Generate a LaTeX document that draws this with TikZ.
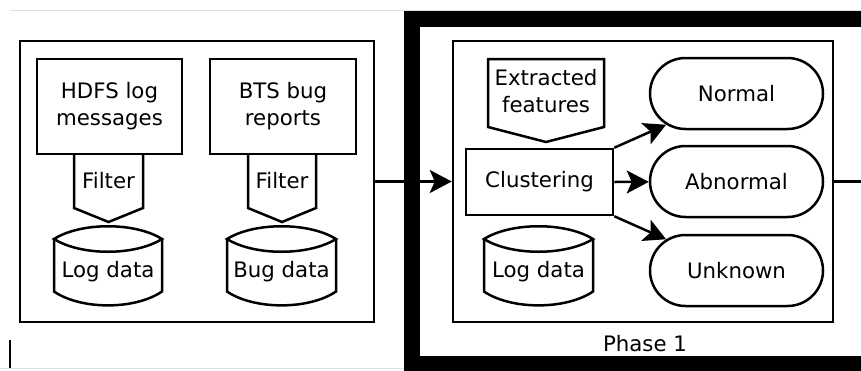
\documentclass[tikz,border=0pt]{standalone}
\usepackage{fontspec}
\setmainfont{DejaVu Sans}
\usetikzlibrary{arrows.meta,shapes.misc}
\newcommand\mycyl[2]{%
  \draw[ln] (#1-#2,239) .. controls (#1-#2/2,222) and (#1+#2/2,222) .. (#1+#2,239)
     .. controls (#1+#2/2,256) and (#1-#2/2,256) .. cycle;
  \draw[ln] (#1-#2,239) -- (#1-#2,291.5) .. controls (#1-#2/2,310) and (#1+#2/2,310) .. (#1+#2,291.5) -- (#1+#2,239);
}
\begin{document}
\begin{tikzpicture}[x=1pt,y=-1pt,
  ln/.style={line width=2.5pt,line join=miter},
  box/.style={draw,ln,rectangle,inner sep=0pt},
  txt/.style={font=\fontsize{21.3}{27}\selectfont,align=center,inner sep=0pt},
  stad/.style={draw,ln,rounded rectangle,minimum width=173pt,minimum height=71pt,inner sep=0pt},
  arr/.style={ln,-{Stealth[length=22pt,width=23pt,inset=5pt]}},
]
\useasboundingbox (0,0) rectangle (861,370);
% faint edge artefacts
\draw[gray!25,line width=1pt] (10,10) -- (861,10);
\draw[gray!25,line width=1pt] (0,368) -- (405,368);
\draw[line width=1.5pt] (10,340) -- (10,368);

% left group
\node[box,minimum width=354pt,minimum height=281pt] (left) at (197,181.5) {};
\node[box,txt,minimum width=145pt,minimum height=95pt] (hdfs) at (109.5,106.5) {HDFS log\\messages};
\node[box,txt,minimum width=146pt,minimum height=95pt] (bts) at (283,106.5) {BTS bug\\reports};
\draw[ln] (74,154) -- (74,208) -- (108.5,222) -- (143,208) -- (143,154);
\node[txt] (filt1) at (108.5,181) {Filter};
\draw[ln] (248,154) -- (248,208) -- (282,222) -- (316,208) -- (316,154);
\node[txt] (filt2) at (282,181) {Filter};
\mycyl{108}{54}
\node[txt] (logd1) at (108,272) {Log data};
\mycyl{281.5}{54.5}
\node[txt] (bugd) at (281.5,272) {Bug data};

% phase 1 frame
\draw[line width=16pt] (411.5,19) rectangle (880,364);
\node[box,minimum width=380pt,minimum height=281pt] (phase) at (643,181.5) {};
\node[txt] (plabel) at (645,344) {Phase 1};

\draw[ln] (488,59) -- (604,59) -- (604,127) -- (546,142) -- (488,127) -- cycle;
\node[txt] (feat) at (546,91) {Extracted\\features};
\node[box,txt,minimum width=147pt,minimum height=66pt] (clus) at (539.5,182) {Clustering};
\mycyl{538.5}{54.5}
\node[txt] (logd2) at (538.5,272) {Log data};

\node[stad,txt] (normal) at (736.5,93.5) {Normal};
\node[stad,txt] (abn) at (736.5,181.5) {Abnormal};
\node[stad,txt] (unk) at (736.5,270.5) {Unknown};

\draw[arr] (left.east) -- (phase.west);
\draw[arr] (clus.north east) -- (normal);
\draw[arr] (clus.east) -- (abn);
\draw[arr] (clus.south east) -- (unk);
\coordinate (exit) at (875,181.5);
\draw[ln] (phase.east) -- (exit);
\end{tikzpicture}
\end{document}
